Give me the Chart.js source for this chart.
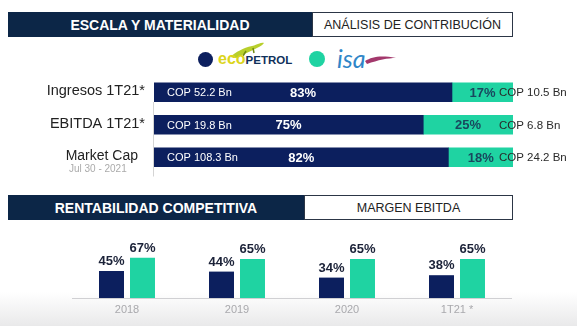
<!DOCTYPE html>
<html>
<head>
<meta charset="utf-8">
<script src="https://cdn.jsdelivr.net/npm/chart.js@4.4.1/dist/chart.umd.min.js"></script>
<style>
  body { margin: 0; background: #fff; font-family: "Liberation Sans", Arial, sans-serif; }
  #page { position: relative; width: 577px; height: 326px; overflow: hidden; background: #fff; }
  .band { position: absolute; left: 8px; height: 25px; display: flex; }
  .band .dark { background: #0c2647; color: #fff; font-weight: bold; font-size: 14px;
    display: flex; align-items: center; justify-content: center; }
  .band .light { background: #fff; color: #222; font-size: 12.5px; box-sizing: border-box;
    border: 1.5px solid #2c3646; display: flex; align-items: center; justify-content: center; }
  .shade { position: absolute; left: 0; right: 0; bottom: 0; height: 34px;
    background: linear-gradient(to bottom, rgba(255,255,255,0), #e9e9ea); }
  canvas { position: absolute; left: 0; }
  .dot { position: absolute; border-radius: 50%; }
</style>
</head>
<body>
<div id="page">
  <div class="shade"></div>

  <div class="band" style="top:12px">
    <div class="dark" style="width:304px">ESCALA Y MATERIALIDAD</div>
    <div class="light" style="width:201px">ANÁLISIS DE CONTRIBUCIÓN</div>
  </div>

  <!-- legend: company marks -->
  <div class="dot" style="left:198px;top:52px;width:15px;height:15px;background:#0c1f5e"></div>
  <svg style="position:absolute;left:228px;top:41px" width="38" height="18" viewBox="0 0 38 18">
    <path d="M2 16 C8 11 15 7 24 5 C29 4 33 1 36 2 C34 5 30 6 27 8 C21 11 14 14 8 17 Z" fill="#b8cf2c"/>
    <path d="M18 10 L15 15 M25 7 L26 12" stroke="#6f8a12" stroke-width="1.5"/>
  </svg>
  <div style="position:absolute;left:218px;top:50px;font-weight:bold;white-space:nowrap">
    <span style="color:#dcd51c;font-size:16px">eco</span><span style="color:#10305a;font-size:11.5px">PETROL</span>
  </div>
  <div class="dot" style="left:309px;top:51px;width:16px;height:16px;background:#1fd3a2"></div>
  <div style="position:absolute;left:337px;top:43px;font:italic 25px Lato, 'DejaVu Sans', sans-serif;color:#2f86c8">isa</div>
  <svg style="position:absolute;left:364px;top:53px" width="34" height="12" viewBox="0 0 34 12">
    <path d="M1 8 C8 4 16 2 32 5 C24 5 14 7 3 11 Z" fill="#a3386c"/>
  </svg>

  <canvas id="shareChart" width="577" height="110" style="top:70px"></canvas>

  <div class="band" style="top:195px">
    <div class="dark" style="width:296px">RENTABILIDAD COMPETITIVA</div>
    <div class="light" style="width:209px">MARGEN EBITDA</div>
  </div>

  <canvas id="marginChart" width="577" height="98" style="top:228px"></canvas>
</div>

<script>
// contribution split (percent of combined group)
var rows = ['Ingresos 1T21*', 'EBITDA 1T21*', 'Market Cap']
var rowNotes = ['', '', 'Jul 30 - 2021']
var ecoShare = [83, 75, 82]
var isaShare = [17, 25, 18]
var ecoCop = ['COP 52.2 Bn', 'COP 19.8 Bn', 'COP 108.3 Bn']
var isaCop = ['COP 10.5 Bn', 'COP 6.8 Bn', 'COP 24.2 Bn']

// EBITDA margin by period
var periods = ['2018', '2019', '2020', '1T21 *']
var ecoMargin = [45, 44, 34, 38]
var isaMargin = [67, 65, 65, 65]

var NAVY = '#0c1f5e'
var TEAL = '#1fd3a2'
var FONT = '"Liberation Sans", Arial, sans-serif'

var shareLabels = {
  id: 'shareLabels',
  afterDatasetsDraw(chart) {
    var ctx = chart.ctx
    var area = chart.chartArea
    var eco = chart.getDatasetMeta(0).data
    var isa = chart.getDatasetMeta(1).data
    ctx.save()

    // thin axis line left of the bars
    ctx.strokeStyle = '#d4d4d4'
    ctx.lineWidth = 1
    ctx.beginPath()
    ctx.moveTo(area.left - 0.5, area.top + 26)
    ctx.lineTo(area.left - 0.5, area.bottom + 3)
    ctx.stroke()

    ctx.textBaseline = 'middle'
    rows.forEach(function(name, i) {
      var y = eco[i].y
      // row titles, the one with a note sits a bit further left
      var right = area.left - (rowNotes[i] ? 16 : 9)
      ctx.fillStyle = '#222'
      ctx.textAlign = 'right'
      ctx.font = (rowNotes[i] ? '14px ' : '14.5px ') + FONT
      ctx.fillText(name, right, y - 1)
      if (rowNotes[i]) {
        var w = ctx.measureText(name).width
        ctx.fillStyle = '#ababab'
        ctx.font = '10px ' + FONT
        ctx.textAlign = 'center'
        ctx.fillText(rowNotes[i], right - w / 2 - 4, y + 12)
      }

      // Ecopetrol segment
      ctx.fillStyle = '#fff'
      ctx.textAlign = 'left'
      ctx.font = '11px ' + FONT
      ctx.fillText(ecoCop[i], area.left + 13, y + 1)
      ctx.textAlign = 'center'
      ctx.font = 'bold 13px ' + FONT
      ctx.fillText(ecoShare[i] + '%', (eco[i].x + eco[i].base) / 2, y + 1)

      // ISA segment
      ctx.fillStyle = '#19475e'
      ctx.fillText(isaShare[i] + '%', (isa[i].x + isa[i].base) / 2, y + 1)
      ctx.fillStyle = '#2a2a2a'
      ctx.textAlign = 'left'
      ctx.font = '11.5px ' + FONT
      ctx.fillText(isaCop[i], area.right - 14, y + 1)
    })
    ctx.restore()
  }
}

new Chart(document.getElementById('shareChart'), {
  type: 'bar',
  data: {
    labels: rows,
    datasets: [
      { label: 'Ecopetrol', data: ecoShare, backgroundColor: NAVY, barThickness: 19 },
      { label: 'ISA', data: isaShare, backgroundColor: TEAL, barThickness: 19 }
    ]
  },
  options: {
    indexAxis: 'y',
    responsive: false,
    animation: false,
    devicePixelRatio: 1,
    layout: { padding: { left: 154, right: 64, top: 6, bottom: 6.5 } },
    scales: {
      x: { stacked: true, min: 0, max: 100, display: false },
      y: { stacked: true, display: false }
    },
    plugins: { legend: { display: false }, tooltip: { enabled: false } }
  },
  plugins: [shareLabels]
})

var marginLabels = {
  id: 'marginLabels',
  afterDatasetsDraw(chart) {
    var ctx = chart.ctx
    var area = chart.chartArea
    var xScale = chart.scales.x
    ctx.save()

    // baseline
    ctx.strokeStyle = '#d0d0d3'
    ctx.lineWidth = 1
    ctx.beginPath()
    ctx.moveTo(area.left, area.bottom + 0.5)
    ctx.lineTo(area.right, area.bottom + 0.5)
    ctx.stroke()

    // period labels
    ctx.fillStyle = '#a9a9ad'
    ctx.font = '11px ' + FONT
    ctx.textAlign = 'center'
    ctx.textBaseline = 'middle'
    periods.forEach(function(p, i) {
      ctx.fillText(p, xScale.getPixelForValue(i), area.bottom + 12)
    })

    // values above bars
    ctx.fillStyle = '#1b2238'
    ctx.font = 'bold 13px ' + FONT
    ctx.textBaseline = 'alphabetic'
    chart.data.datasets.forEach(function(ds, d) {
      chart.getDatasetMeta(d).data.forEach(function(bar, i) {
        ctx.fillText(ds.data[i] + '%', bar.x, bar.y - 6)
      })
    })
    ctx.restore()
  }
}

new Chart(document.getElementById('marginChart'), {
  type: 'bar',
  data: {
    labels: periods,
    datasets: [
      { label: 'Ecopetrol', data: ecoMargin, backgroundColor: NAVY },
      { label: 'ISA', data: isaMargin, backgroundColor: TEAL }
    ]
  },
  options: {
    responsive: false,
    animation: false,
    devicePixelRatio: 1,
    layout: { padding: { left: 72, right: 65, top: 10, bottom: 28 } },
    datasets: { bar: { categoryPercentage: 0.5636, barPercentage: 0.806 } },
    scales: {
      x: { display: false },
      y: { min: 0, max: 100, display: false }
    },
    plugins: { legend: { display: false }, tooltip: { enabled: false } }
  },
  plugins: [marginLabels]
})
</script>
</body>
</html>
